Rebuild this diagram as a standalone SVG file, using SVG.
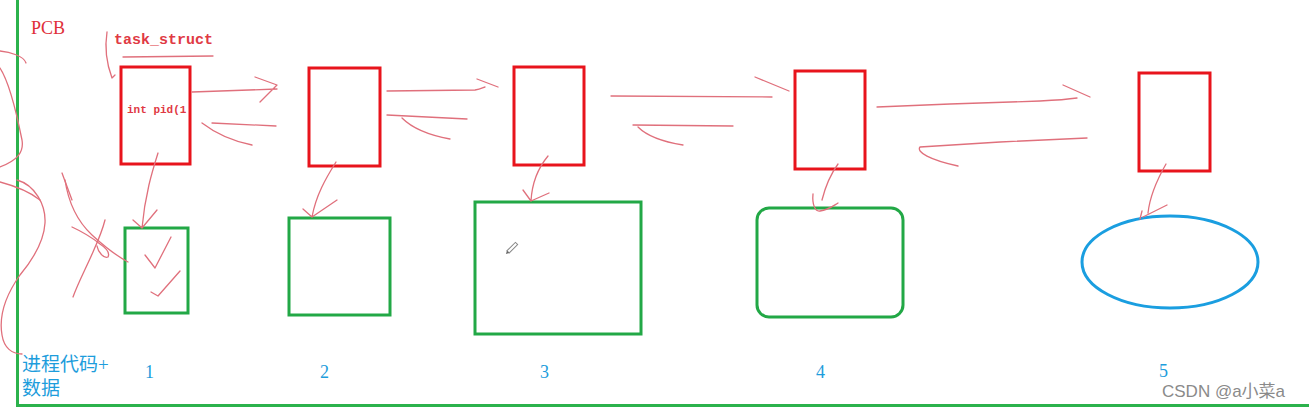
<svg xmlns="http://www.w3.org/2000/svg" width="1309" height="410" viewBox="0 0 1309 410">
<style>
.pcb{fill:none;stroke:#e8141c;stroke-width:3}
.mem{fill:none;stroke:#22a846;stroke-width:3}
.ink{fill:none;stroke:#e0707c;stroke-width:1.3;stroke-linecap:round;stroke-linejoin:round}
.red{fill:#e0303a;font-family:"Liberation Serif",serif}
.mono{fill:#e03a44;font-family:"Liberation Mono","DejaVu Sans Mono",monospace}
.blue{fill:#1d9ddc;font-family:"Liberation Serif","Noto Sans CJK SC",serif;font-size:19px}
.num{fill:#1d9ddc;font-family:"Liberation Serif",serif;font-size:18px}
</style>
<rect width="1309" height="410" fill="#ffffff"/>
<g id="frame">
<path d="M17.5,0 V405.5 H1309" fill="none" stroke="#2bb24c" stroke-width="3"/>
</g>
<g id="labels">
<text class="red" x="31" y="34" font-size="18">PCB</text>
<text class="mono" x="114" y="44" font-size="15" font-weight="bold">task_struct</text>
<text class="blue" x="22" y="371" font-family="'Noto Sans CJK SC',sans-serif">进程代码+</text>
<text class="blue" x="22" y="395" font-family="'Noto Sans CJK SC',sans-serif">数据</text>
<text class="num" x="145" y="378">1</text>
<text class="num" x="320" y="378">2</text>
<text class="num" x="540" y="378">3</text>
<text class="num" x="816" y="378">4</text>
<text class="num" x="1159" y="377">5</text>
<text x="1162" y="397" font-family="'Liberation Sans','Noto Sans CJK SC',sans-serif" font-size="17" fill="#8a8a8a">CSDN @a小菜a</text>
</g>
<g id="pcb1"><rect class="pcb" x="121" y="67" width="69" height="97"/>
<text class="mono" x="127" y="113" font-size="11" font-weight="bold">int pid(1</text></g>
<g id="pcb2"><rect class="pcb" x="309" y="68" width="71" height="98"/></g>
<g id="pcb3"><rect class="pcb" x="514" y="67" width="70" height="98"/></g>
<g id="pcb4"><rect class="pcb" x="795" y="71" width="70" height="98"/></g>
<g id="pcb5"><rect class="pcb" x="1139" y="73" width="71" height="98"/></g>
<g id="mem1"><rect class="mem" x="125" y="228" width="63" height="85"/>
<path class="ink" d="M145,255 L155,268 L171,237 M151,292 L158,296 L180,271"/></g>
<g id="mem2"><rect class="mem" x="289" y="218" width="101" height="97"/></g>
<g id="mem3"><rect class="mem" x="475" y="202" width="166" height="132"/>
<g transform="translate(513,247) rotate(-45)"><rect x="-7" y="-1.6" width="12" height="3.2" fill="#ffffff" stroke="#888" stroke-width="1"/><path d="M-7,-1.6 L-10,0 L-7,1.6 Z" fill="#666"/></g></g>
<g id="mem4"><rect class="mem" x="757" y="208" width="146" height="109" rx="12"/></g>
<g id="mem5"><ellipse cx="1170" cy="262" rx="88" ry="46" fill="none" stroke="#1a9ee0" stroke-width="3"/></g>
<g id="connectors">
<path class="ink" d="M0,51 C10,52 24,56 26,63"/>
<path class="ink" d="M0,68 C8,80 16,110 22,140 C24,152 18,160 0,167"/>
<path class="ink" d="M0,182 C15,186 30,192 40,200"/>
<path class="ink" d="M17,180 C35,185 46,205 45,223 C44,240 35,257 20,275 C8,292 -2,312 2,335 C4,348 12,354 22,354"/>
<path class="ink" d="M62,173 L72,200"/>
<path class="ink" d="M65,180 C68,200 76,220 92,235 C105,247 115,255 128,262"/>
<path class="ink" d="M72,227 C85,233 95,240 100,244 C106,248 110,253 108,257 C104,259 98,252 97,246"/>
<path class="ink" d="M105,220 C102,232 97,243 93,252 C86,268 78,283 73,297"/>
<path class="ink" d="M107,32 C105,45 106,62 112,78 L115,75"/>
<path class="ink" d="M123,57 L213,56"/>
<path class="ink" d="M158,153 C152,172 145,195 142,228 M133,220 L142,228 L157,210"/>
<path class="ink" d="M192,92 L277,89 M255,77 L277,85 L260,102"/>
<path class="ink" d="M212,123 L276,126 M202,123 C215,133 232,141 252,145"/>
<path class="ink" d="M336,162 C326,178 316,195 312,217 M303,209 L312,217 L337,200"/>
<path class="ink" d="M387,91 L475,90 C481,89 484,87 485,87 M477,79 L498,87"/>
<path class="ink" d="M387,115 L467,119 M402,118 C412,128 428,135 450,139"/>
<path class="ink" d="M548,156 C538,168 532,183 531,201 M523,190 L531,201 L549,193"/>
<path class="ink" d="M611,96 L772,97 M755,77 L789,91"/>
<path class="ink" d="M633,125 L733,126 M638,127 C648,137 664,142 683,145"/>
<path class="ink" d="M838,164 C830,175 825,188 822,200 M813,194 C812,204 815,212 820,211 C828,210 833,206 838,203"/>
<path class="ink" d="M877,107 L950,104 L1040,101 C1060,100 1070,99 1077,98 M1063,85 L1090,97"/>
<path class="ink" d="M1087,138 L1000,142 L920,147 C916,152 930,160 958,166"/>
<path class="ink" d="M1166,164 C1158,178 1150,195 1148,213 M1140,219 L1142,211 M1143,217 L1167,205"/>
</g>
</svg>
